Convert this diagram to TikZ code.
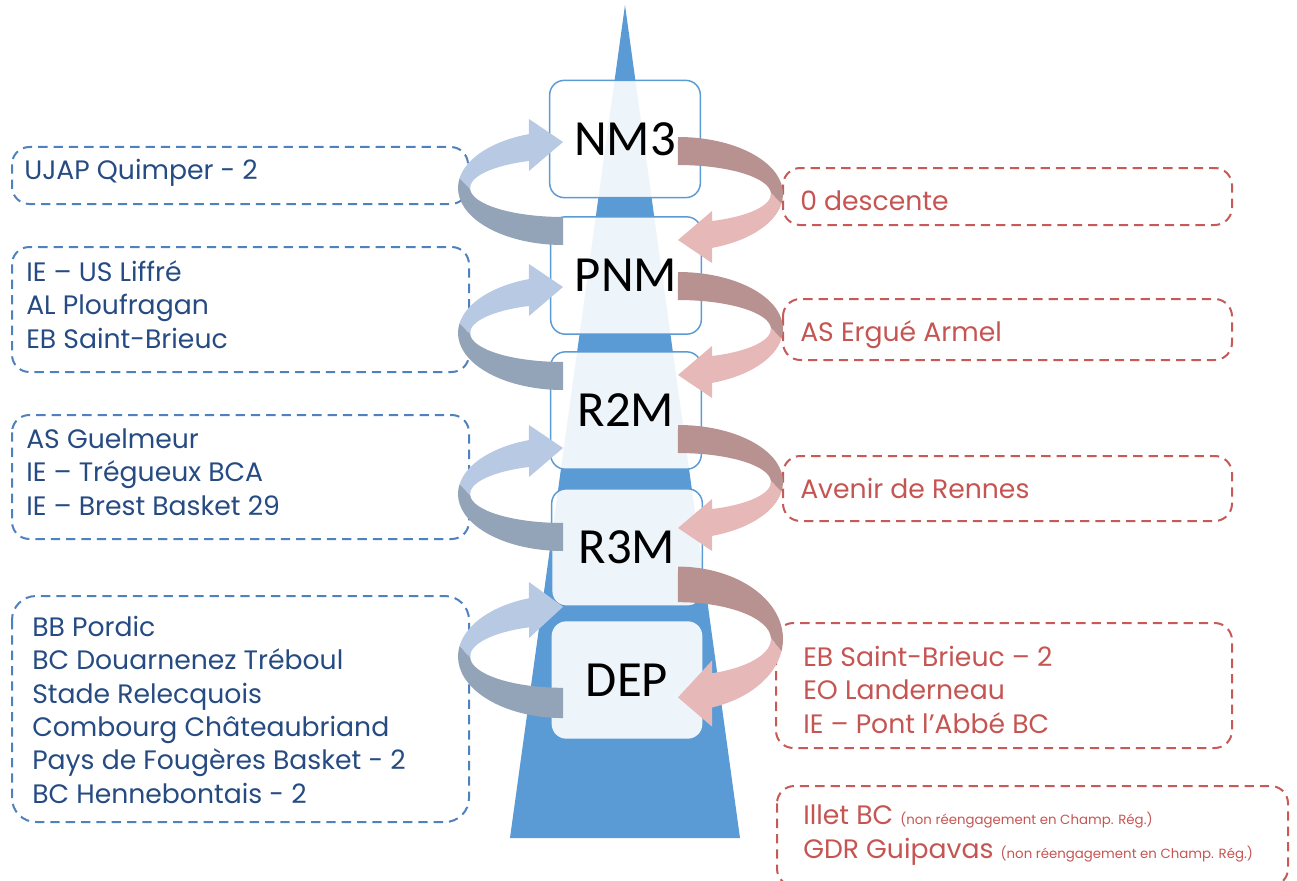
\documentclass[tikz,border=0pt]{standalone}
\usepackage{fontspec}
\setmainfont{Poppins}
\newfontfamily\calfont{Carlito}
\definecolor{tri}{RGB}{91,155,213}
\definecolor{boxb}{RGB}{91,155,213}
\definecolor{dashb}{RGB}{79,129,189}
\definecolor{dashr}{RGB}{197,90,87}
\definecolor{txtb}{RGB}{38,75,130}
\definecolor{txtr}{RGB}{196,85,82}
\definecolor{lblue}{RGB}{183,201,227}
\definecolor{lgray}{RGB}{148,164,184}
\definecolor{rdark}{RGB}{184,146,144}
\definecolor{rpink}{RGB}{230,185,184}
\newcommand\ribbonflat{(0,57) arc[start angle=90,end angle=190,x radius=105,y radius=57] -- (-92.9,1) arc[start angle=178,end angle=90,x radius=93,y radius=29] -- cycle}
\newcommand\ribbonhead{(-103.4,-9.9) arc[start angle=190,end angle=251,x radius=105,y radius=57] -- (-34,-69) -- (0,-46) -- (-34,-17) -- (-34,-27) arc[start angle=248.5,end angle=178,x radius=93,y radius=29] -- cycle}
\tikzset{
  larrow/.pic={
    \fill[lgray] \ribbonflat;
    \fill[lblue] \ribbonhead;
  },
  rarrow/.pic={
    \begin{scope}[rotate=180]
    \fill[rdark] \ribbonflat;
    \fill[rpink] \ribbonhead;
    \end{scope}
  },
  lvl/.style={draw=boxb, line width=1.1pt, fill=white, fill opacity=0.9, text opacity=1,
    rounded corners=11pt, minimum width=113pt, minimum height=88pt, inner sep=0pt,
    font=\calfont\fontsize{38}{40}\selectfont},
  dbox/.style={dash pattern=on 7pt off 4.5pt, line width=1.5pt, rounded corners=13pt},
  bl/.style={dbox, draw=dashb},
  rd/.style={dbox, draw=dashr},
  ltxt/.style={anchor=base west, inner sep=0pt, align=left, text=txtb, font=\fontsize{20}{25}\selectfont},
  rtxt/.style={anchor=base west, inner sep=0pt, align=left, text=txtr, font=\fontsize{20}{25}\selectfont},
}
\begin{document}
\begin{tikzpicture}[x=0.75pt,y=-0.75pt]
\useasboundingbox (0,0) rectangle (1297,881);
% central spire
\fill[tri] (625,5) -- (740,838) -- (510,838) -- cycle;
% levels
\node[lvl] (nm3) at (625,139) {NM3};
\node[lvl] (pnm) at (626,275.5) {PNM};
\node[lvl] (r2m) at (626,410.5) {R2M};
\node[lvl] (r3m) at (627,547.5) {R3M};
\node[lvl, draw=none] (dep) at (627,680) {DEP};
% dashed boxes left
\draw[bl] (12,147) rectangle (468,204);
\draw[bl] (12,247) rectangle (469,372);
\draw[bl] (12,415) rectangle (469,539);
\draw[bl, rounded corners=18pt] (12,596) rectangle (469,822);
% dashed boxes right
\draw[rd] (783,168) rectangle (1232,225);
\draw[rd] (783,299) rectangle (1232,360);
\draw[rd] (783,456) rectangle (1232,521);
\draw[rd] (776,623) rectangle (1232,748);
\draw[rd] (777,786) rectangle (1288,886);
% arrows
\pic at (563,188) {larrow};
\pic at (563,333) {larrow};
\pic at (563,494) {larrow};
\pic[yscale=1.08] at (563,656.5) {larrow};
\pic at (678,194) {rarrow};
\pic at (678,329) {rarrow};
\pic at (678,482) {rarrow};
\pic[yscale=1.27] at (678,639) {rarrow};
% texts (base anchor = baseline of last line)
\node[ltxt] (t1) at (24,180) {UJAP Quimper - 2};
\node[ltxt] (t2) at (26,348) {IE – US Liffré\\AL Ploufragan\\EB Saint-Brieuc};
\node[ltxt] (t3) at (26,515) {AS Guelmeur\\IE – Trégueux BCA\\IE – Brest Basket 29};
\node[ltxt] (t4) at (32,803) {BB Pordic\\BC Douarnenez Tréboul\\Stade Relecquois\\Combourg Châteaubriand\\Pays de Fougères Basket - 2\\BC Hennebontais - 2};
\node[rtxt] (u1) at (800,210) {0 descente};
\node[rtxt] (u2) at (800,341) {AS Ergué Armel};
\node[rtxt] (u3) at (800,498) {Avenir de Rennes};
\node[rtxt] (u4) at (803,733) {EB Saint-Brieuc – 2\\EO Landerneau\\IE – Pont l’Abbé BC};
\node[rtxt] (u5) at (803,858) {Illet BC {\fontsize{10}{10}\selectfont (non réengagement en Champ. Rég.)}\\GDR Guipavas {\fontsize{10}{10}\selectfont (non réengagement en Champ. Rég.)}};
\end{tikzpicture}
\end{document}
